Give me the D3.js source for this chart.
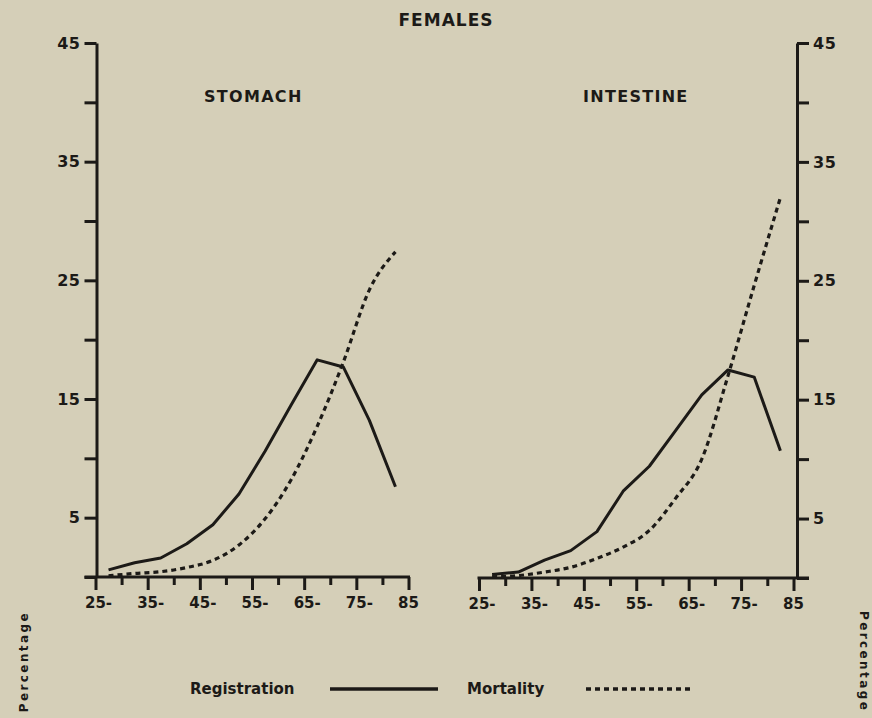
<!DOCTYPE html>
<html>
<head>
<meta charset="utf-8">
<script src="https://cdn.jsdelivr.net/npm/d3@7"></script>
<style>
  html, body { margin: 0; padding: 0; background: #d6d0b9; }
  svg { display: block; }
  text { font-family: "DejaVu Sans", sans-serif; font-weight: bold; fill: #1c1a17; }
</style>
</head>
<body>
<svg id="chart" width="872" height="718"></svg>
<script>
// Age groups (midpoints of five-year bands) and axis ticks
const midAges = [27.5, 32.5, 37.5, 42.5, 47.5, 52.5, 57.5, 62.5, 67.5, 72.5, 77.5, 82.5];
const ageTicks = [25, 30, 35, 40, 45, 50, 55, 60, 65, 70, 75, 80, 85];
const ageLabels = {25: "25-", 35: "35-", 45: "45-", 55: "55-", 65: "65-", 75: "75-", 85: "85"};
const pctTicks = [0, 5, 10, 15, 20, 25, 30, 35, 40, 45];
const pctLabels = [5, 15, 25, 35, 45];

// Percentage by age group, females
const stomachRegistration   = [0.6, 1.2, 1.6, 2.8, 4.4, 7.0, 10.6, 14.5, 18.3, 17.7, 13.2, 7.6];
const stomachMortality      = [0.1, 0.3, 0.45, 0.8, 1.4, 2.7, 4.9, 8.2, 12.7, 18.1, 24.2, 27.4];
const intestineRegistration = [0.3, 0.5, 1.5, 2.3, 3.9, 7.3, 9.4, 12.4, 15.4, 17.5, 16.9, 10.7];
const intestineMortality    = [0.1, 0.2, 0.5, 0.9, 1.65, 2.6, 4.0, 6.7, 10.0, 17.0, 24.6, 32.0];

const seriesNames = ["Registration", "Mortality"];

const ink = "#1c1a17";
const svg = d3.select("#chart");

svg.append("rect").attr("width", 872).attr("height", 718).attr("fill", "#d5cfb8");

// Title
svg.append("text")
  .attr("x", 446).attr("y", 26)
  .attr("text-anchor", "middle")
  .attr("font-size", 17)
  .attr("letter-spacing", 1)
  .text("FEMALES");

const panels = [
  { title: "STOMACH", tx: 204, reg: stomachRegistration, mort: stomachMortality,
    xr: [95.5, 408.5], yr: [577, 43], axisX: 96.5, side: "left" },
  { title: "INTESTINE", tx: 583, reg: intestineRegistration, mort: intestineMortality,
    xr: [479, 793.5], yr: [578, 43], axisX: 797, side: "right" }
];

panels.forEach(p => {
  const x = d3.scaleLinear().domain([25, 85]).range(p.xr);
  const y = d3.scaleLinear().domain([0, 45]).range(p.yr);
  const g = svg.append("g");

  // Panel title
  g.append("text")
    .attr("x", p.tx).attr("y", 102)
    .attr("font-size", 16)
    .attr("letter-spacing", 1.3)
    .text(p.title);

  // Percentage axis
  const yAxis = (p.side === "left" ? d3.axisLeft(y) : d3.axisRight(y))
    .tickValues(pctTicks)
    .tickSize(12)
    .tickSizeOuter(0)
    .tickPadding(4)
    .tickFormat(d => pctLabels.includes(d) ? d : "");
  const ya = g.append("g")
    .attr("transform", `translate(${p.axisX},0)`)
    .call(yAxis);
  ya.selectAll("path, line").attr("stroke", ink).attr("stroke-width", 3);
  ya.selectAll("text")
    .attr("fill", ink)
    .attr("font-size", 16)
    .attr("font-family", "DejaVu Sans, sans-serif")
    .attr("font-weight", "bold")
    .attr("letter-spacing", 0.5);

  // Age axis
  const xAxis = d3.axisBottom(x)
    .tickValues(ageTicks)
    .tickSize(13)
    .tickSizeOuter(0)
    .tickFormat("");
  const xa = g.append("g")
    .attr("transform", `translate(0,${y(0)})`)
    .call(xAxis);
  xa.select(".domain").remove();
  xa.selectAll("line").attr("stroke", ink).attr("stroke-width", 3)
    .attr("y2", d => ageLabels[d] ? 13 : 8);
  // baseline joins the 0 tick of the percentage axis
  const bx0 = p.side === "left" ? p.axisX - 12 : x(25) - 1.5;
  const bx1 = p.side === "left" ? x(85) + 1.5 : p.axisX + 12;
  g.append("line")
    .attr("x1", bx0).attr("x2", bx1)
    .attr("y1", y(0)).attr("y2", y(0))
    .attr("stroke", ink).attr("stroke-width", 3);

  // Age labels: digits centred on the tick, hyphen trailing
  ageTicks.filter(d => ageLabels[d]).forEach(d => {
    g.append("text")
      .attr("x", x(d) - 10.5).attr("y", y(0) + 31)
      .attr("font-size", 15)
      .text(ageLabels[d]);
  });

  const line = d3.line()
    .x((d, i) => x(midAges[i]))
    .y(d => y(d));

  g.append("path")
    .datum(p.reg)
    .attr("d", line.curve(d3.curveLinear))
    .attr("fill", "none")
    .attr("stroke", ink)
    .attr("stroke-width", 3)
    .attr("stroke-linejoin", "round");

  g.append("path")
    .datum(p.mort)
    .attr("d", line.curve(d3.curveMonotoneX))
    .attr("fill", "none")
    .attr("stroke", ink)
    .attr("stroke-width", 3.2)
    .attr("stroke-dasharray", "5,4");
});

// Side captions
svg.append("text")
  .attr("transform", "translate(28,611) rotate(-90)")
  .attr("text-anchor", "end")
  .attr("font-size", 12)
  .attr("letter-spacing", 2.4)
  .text("Percentage");
svg.append("text")
  .attr("transform", "translate(860,611) rotate(90)")
  .attr("text-anchor", "start")
  .attr("font-size", 12)
  .attr("letter-spacing", 2.4)
  .text("Percentage");

// Legend
const legend = svg.append("g");
legend.append("text").attr("x", 190).attr("y", 694).attr("font-size", 15).text(seriesNames[0]);
legend.append("line")
  .attr("x1", 330).attr("x2", 438).attr("y1", 689).attr("y2", 689)
  .attr("stroke", ink).attr("stroke-width", 3.5);
legend.append("text").attr("x", 467).attr("y", 694).attr("font-size", 15).text(seriesNames[1]);
legend.append("line")
  .attr("x1", 586).attr("x2", 692).attr("y1", 689).attr("y2", 689)
  .attr("stroke", ink).attr("stroke-width", 3.5)
  .attr("stroke-dasharray", "5,4");
</script>
</body>
</html>
